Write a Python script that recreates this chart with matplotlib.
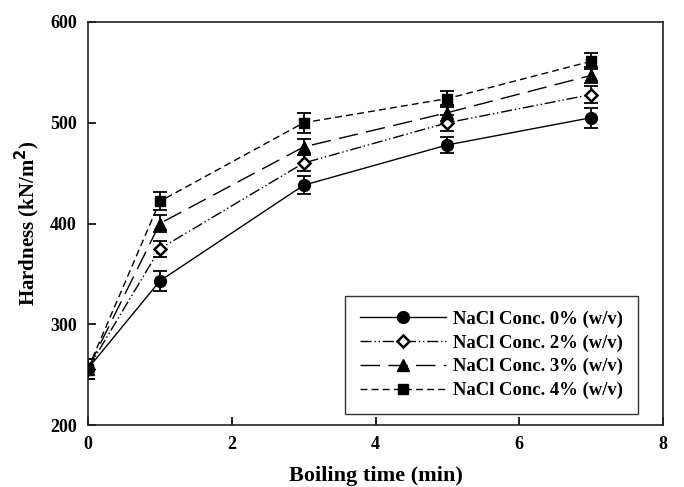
import matplotlib
matplotlib.use("Agg")
import matplotlib.pyplot as plt
from matplotlib.lines import Line2D

time = [0, 1, 3, 5, 7]
nacl0 = [256, 343, 438, 478, 505]
nacl2 = [256, 375, 460, 500, 528]
nacl3 = [256, 400, 476, 510, 547]
nacl4 = [256, 422, 500, 524, 561]
err0 = [10, 10, 9, 8, 10]
err2 = [10, 8, 8, 8, 8]
err3 = [10, 8, 8, 8, 8]
err4 = [10, 9, 10, 8, 8]
labels = ["NaCl Conc. 0% (w/v)", "NaCl Conc. 2% (w/v)",
          "NaCl Conc. 3% (w/v)", "NaCl Conc. 4% (w/v)"]

plt.rcParams['font.family'] = ['Liberation Serif', 'DejaVu Serif']
plt.rcParams['font.weight'] = 'bold'

fig = plt.figure(figsize=(6.84, 4.87), dpi=100)
ax = fig.add_axes([88/684, 62/487, 575/684, 403/487])

styles = [
    dict(ls='-', marker='o', mfc='black', ms=8.5),
    dict(ls=(0, (8, 2, 1, 2, 1, 2)), marker='D', mfc='white', ms=6, mew=1.8),
    dict(ls=(0, (14, 6)), marker='^', mfc='black', ms=8.5),
    dict(ls=(0, (5, 3)), marker='s', mfc='black', ms=7.5),
]
series = [nacl0, nacl2, nacl3, nacl4]
errs = [err0, err2, err3, err4]
handles = []
for y, e, st, lab in zip(series, errs, styles, labels):
    ax.errorbar(time, y, yerr=e, fmt='none', ecolor='black', elinewidth=1.3,
                capsize=5, capthick=1.3, zorder=2)
    ax.plot(time, y, color='black', lw=1.0, linestyle=st['ls'],
            marker=st['marker'], mfc=st['mfc'], mec='black', ms=st['ms'],
            mew=st.get('mew', 1.0), zorder=3)
    handles.append(Line2D([], [], color='black', lw=1.0, linestyle=st['ls'],
                          marker=st['marker'], mfc=st['mfc'], mec='black',
                          ms=st['ms'], mew=st.get('mew', 1.0), label=lab))

ax.set_xlim(0, 8)
ax.set_ylim(200, 600)
ax.set_xticks([0, 2, 4, 6, 8])
ax.set_yticks([200, 300, 400, 500, 600])
ax.tick_params(direction='in', length=6, width=1.2, labelsize=13, pad=8)
for lab in ax.get_xticklabels() + ax.get_yticklabels():
    lab.set_fontweight('bold')
for s in ax.spines.values():
    s.set_linewidth(1.2)
    s.set_color('#222222')

ax.set_xlabel('Boiling time (min)', fontsize=16, fontweight='bold', labelpad=9)
ax.set_ylabel('Hardness (kN/m$^\\mathbf{2}$)', fontsize=15, fontweight='bold', labelpad=6)

leg = ax.legend(handles=handles, loc='lower right', bbox_to_anchor=(0.957, 0.027),
                borderaxespad=0, handlelength=4.6, handletextpad=0.4,
                frameon=True, fancybox=False, edgecolor='black', borderpad=0.8,
                labelspacing=0.35, prop={'weight': 'bold', 'size': 13.4})
leg.get_frame().set_linewidth(1.0)

fig.savefig('out.png', dpi=100)
